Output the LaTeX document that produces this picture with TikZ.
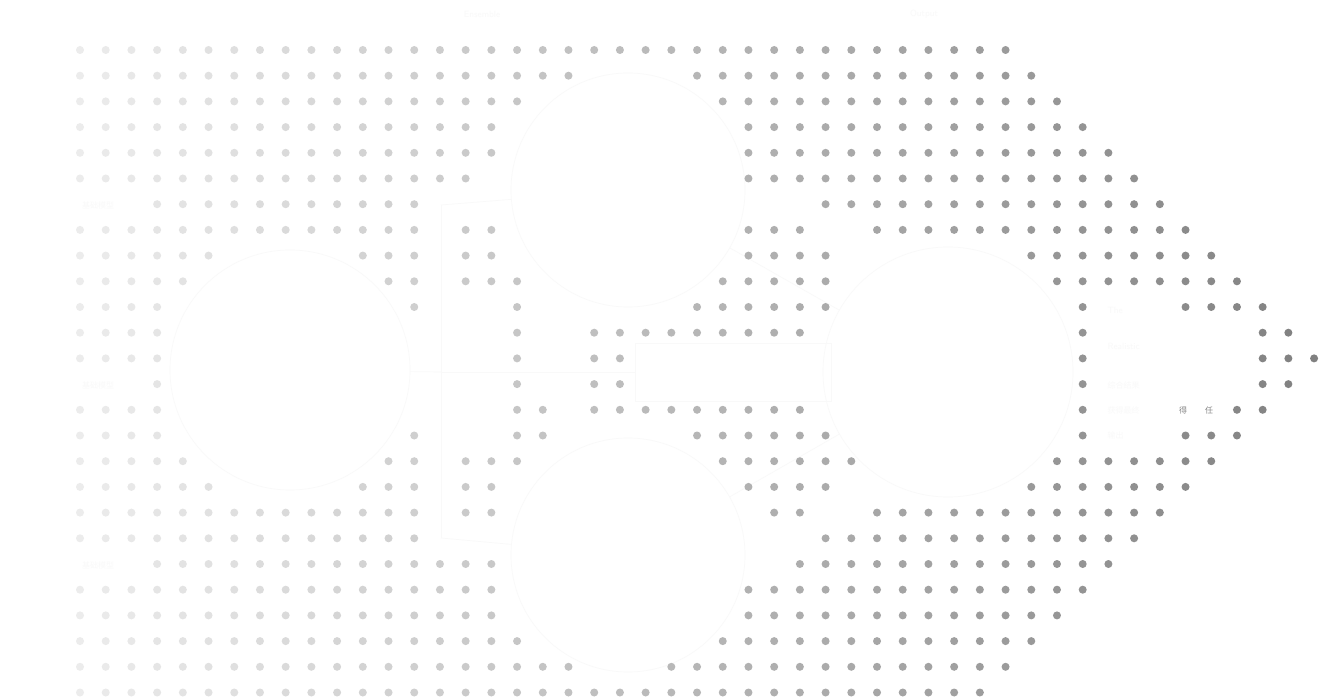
\documentclass[tikz,border=0pt]{standalone}
\usepackage{fontspec}
\newfontfamily\cjk{Noto Sans CJK SC}
\definecolor{faint}{HTML}{F9F9F9}
\definecolor{charg}{HTML}{858585}
\newcommand\dotrow[2]{%
  \foreach \ia/\ib in {#2}{%
    \foreach \ii in {\ia,...,\ib}{%
      \pgfmathsetmacro\pc{7.45+42.35*\ii/48}%
      \fill[black!\pc] ({80+25.71*\ii},{-50-25.7*#1}) circle (4pt);
    }}}
\tikzset{
  faintshape/.style={draw=faint, line width=0.7pt, fill=none, inner sep=0pt},
  faintline/.style={draw=faint, line width=0.7pt},
  fainttext/.style={text=faint, font=\sffamily\small},
  faintcjk/.style={text=faint, font=\cjk\footnotesize},
  graychar/.style={text=charg, font=\cjk\fontsize{8}{9}\selectfont, inner sep=0pt}
}
\begin{document}
\begin{tikzpicture}[x=1pt,y=1pt]
\useasboundingbox (0,0) rectangle (1320,-700);
\fill[white] (0,0) rectangle (1320,-700);
% faint shapes (behind the dots)
\node[faintshape, circle, minimum size=240pt] (inp) at (290,-370) {};
\node[faintshape, circle, minimum size=234pt] (top) at (628,-190) {};
\node[faintshape, circle, minimum size=234pt] (bot) at (628,-555) {};
\node[faintshape, rectangle, minimum width=196pt, minimum height=58pt] (mid) at (733,-372) {};
\node[faintshape, circle, minimum size=250pt] (comb) at (948,-372) {};
\coordinate (brtop) at (441,-205);
\coordinate (brmid) at (441,-372);
\coordinate (brbot) at (441,-538);
\draw[faintline] (inp) -- (brmid);
\draw[faintline] (brtop) -- (brbot);
\draw[faintline] (brtop) -- (top);
\draw[faintline] (brbot) -- (bot);
\draw[faintline] (brmid) -- (mid);
\draw[faintline] (top) -- (comb);
\draw[faintline] (bot) -- (comb);
% faint texts
\node[fainttext] (h1) at (482,-14) {Ensemble};
\node[fainttext] (h2) at (924,-14) {Output};
\node[faintcjk] (l1) at (98,-205) {基础模型};
\node[faintcjk] (l2) at (98,-385) {基础模型};
\node[faintcjk] (l3) at (98,-565) {基础模型};
\node[fainttext, anchor=west] (t1) at (1104,-310) {The};
\node[fainttext, anchor=west] (t2) at (1104,-346) {Realistic};
\node[faintcjk, anchor=west] (t3) at (1104,-385) {综合结果};
\node[faintcjk, anchor=west] (t4) at (1104,-410) {获得最终};
\node[faintcjk, anchor=west] (t5) at (1104,-435) {输出};
% dot field
\dotrow{0}{0/36}
\dotrow{1}{0/19,24/37}
\dotrow{2}{0/17,25/38}
\dotrow{3}{0/16,26/39}
\dotrow{4}{0/16,26/40}
\dotrow{5}{0/15,26/41}
\dotrow{6}{3/13,29/42}
\dotrow{7}{0/13,15/16,26/28,31/43}
\dotrow{8}{0/5,11/13,15/16,26/29,37/44}
\dotrow{9}{0/4,12/13,15/17,25/29,38/45}
\dotrow{10}{0/3,13/13,17/17,24/29,39/39,43/46}
\dotrow{11}{0/3,17/17,20/28,39/39,46/47}
\dotrow{12}{0/3,17/17,20/21,39/39,46/48}
\dotrow{13}{3/3,17/17,20/21,39/39,46/47}
\dotrow{14}{0/3,17/18,20/28,39/39,45/46}
\dotrow{15}{0/3,13/13,17/18,24/29,39/39,43/45}
\dotrow{16}{0/4,12/13,15/17,25/30,38/44}
\dotrow{17}{0/5,11/13,15/16,26/29,37/43}
\dotrow{18}{0/13,15/16,27/28,31/42}
\dotrow{19}{0/13,29/41}
\dotrow{20}{3/16,28/40}
\dotrow{21}{0/16,26/39}
\dotrow{22}{0/16,26/38}
\dotrow{23}{0/17,25/37}
\dotrow{24}{0/19,23/36}
\dotrow{25}{0/35}
% visible grey characters
\node[graychar] (g1) at (1183,-410) {得};
\node[graychar] (g2) at (1209,-410) {任};
\end{tikzpicture}
\end{document}
